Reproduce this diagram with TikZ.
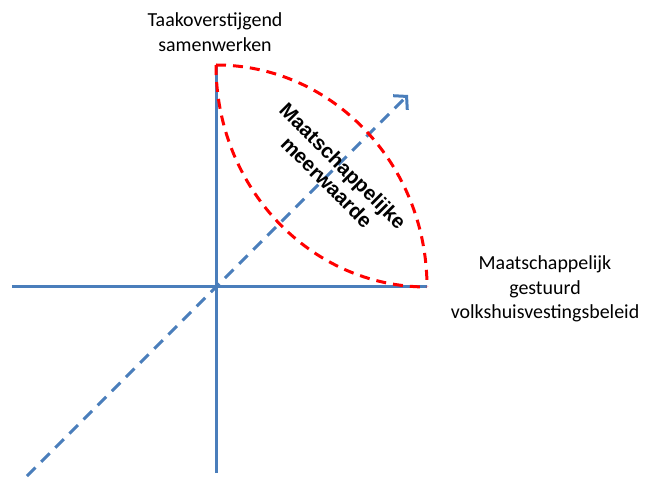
\documentclass[tikz,border=0pt]{standalone}
\usepackage{fontspec}
\setmainfont{Carlito}
\newfontfamily\arialfont{Liberation Sans}
\usetikzlibrary{arrows.meta}
\definecolor{axisblue}{HTML}{4A7EBB}
\definecolor{lensred}{HTML}{FF0000}

\begin{document}
\begin{tikzpicture}[x=1bp,y=1bp,line width=3bp,>={Straight Barb[length=9bp,width=20bp]}]
\tikzset{axis/.style={draw=axisblue,line width=3bp},
  diag/.style={draw=axisblue,line width=3bp,dash pattern=on 12bp off 8bp},
  lens/.style={draw=lensred,line width=3bp,dash pattern=on 10bp off 7bp},
  lbl/.style={align=center,inner sep=0pt,font=\fontsize{20}{24.5}\selectfont}}
\useasboundingbox (-216,-191) rectangle (430,287);
% ---------- axes ----------
\coordinate (O) at (0,0);
\coordinate (top) at (0,222);
\coordinate (bottom) at (0,-186);
\coordinate (left) at (-204,0);
\coordinate (right) at (211,0);
\draw[axis] (left) -- (right);
\draw[axis] (bottom) -- (top);
% ---------- diagonal ----------
\coordinate (start) at (-189,-189);
\coordinate (tip) at (192,192);
\draw[diag,->] (start) -- (tip);
% ---------- lens ----------
\draw[lens] (top) arc[start angle=90,end angle=0,x radius=211,y radius=222];
\draw[lens] (top) arc[start angle=180,end angle=270,x radius=211,y radius=222];
% ---------- labels ----------
\node[lbl] (samen) at (-1,255) {Taakoverstijgend\\samenwerken};
\node[lbl] (beleid) at (329,-2) {Maatschappelijk\\gestuurd\\volkshuisvestingsbeleid};
\node[lbl,rotate=-45,font=\arialfont\bfseries\fontsize{20.5}{23}\selectfont]
  (meerwaarde) at (119,113) {Maatschappelijke\\meerwaarde};
\end{tikzpicture}
\end{document}
